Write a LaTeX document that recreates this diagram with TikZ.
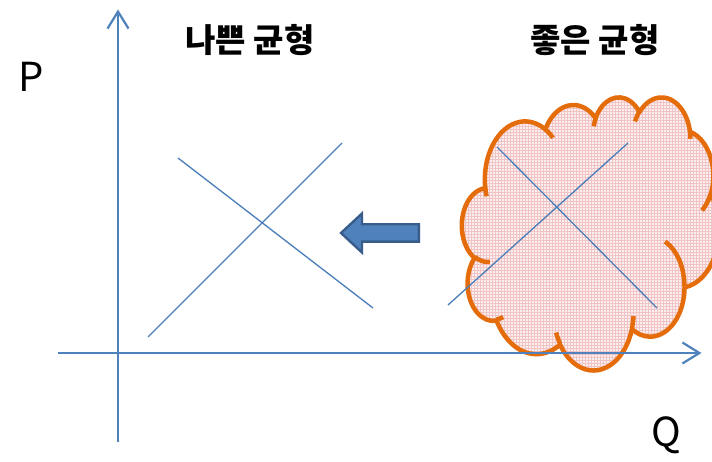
\documentclass[tikz,border=0pt]{standalone}
\usepackage{fontspec}
\newfontfamily\kr{Noto Sans CJK KR}
\usetikzlibrary{arrows.meta,patterns}
\definecolor{axisblue}{HTML}{4F81BD}
\definecolor{lineblue}{HTML}{4A7EBB}
\definecolor{cloudorange}{HTML}{E46C0A}
\definecolor{cloudpink}{RGB}{252,239,239}
\definecolor{gridpink}{RGB}{240,196,196}
\definecolor{arrowdark}{HTML}{385D8A}
% map cloud shape units (0..432) to picture points
\newcommand\cX[1]{462+0.595*(#1)}
\newcommand\cY[1]{365.5-0.632*(#1)}
% parametric angles of an OOXML-style arcTo (visual angles)
\newcommand\cldset[5]{%
  \pgfmathsetmacro\cldTs{atan2((#2)*sin(#4),(#3)*cos(#4))}%
  \pgfmathsetmacro\cldTe{atan2((#2)*sin((#4)+(#5)),(#3)*cos((#4)+(#5)))}%
  \pgfmathsetmacro\cldTe{\cldTe+360*((#5)>0)*(\cldTe<\cldTs)-360*((#5)<0)*(\cldTe>\cldTs)}%
  \expandafter\xdef\csname cldS#1\endcsname{\cldTs}%
  \expandafter\xdef\csname cldE#1\endcsname{\cldTe}%
}
\newcommand\cldarc[3]{arc[start angle={-(\csname cldS#1\endcsname)}, end angle={-(\csname cldE#1\endcsname)}, x radius={0.595*(#2)}, y radius={0.632*(#3)}]}
\begin{document}
\begin{tikzpicture}[x=1pt,y=1pt,
  axis/.style={draw=axisblue, line width=2.2pt, -{Straight Barb[length=17pt,width=21pt]}},
  curve/.style={draw=lineblue, line width=1.3pt},
  cloudline/.style={draw=cloudorange, line width=4.5pt},
  cloudbody/.style={cloudline, line join=round, preaction={fill=cloudpink}, pattern=grid, pattern color=gridpink},
  shiftarrow/.style={draw=arrowdark, fill=axisblue, line width=2.4pt, line join=miter},
  axlabel/.style={font=\kr\fontsize{40}{40}\selectfont, inner sep=0pt},
  title/.style={font=\kr\bfseries\fontsize{33}{33}\selectfont, inner sep=0pt}]
\useasboundingbox (0,0) rectangle (712,462);
\fill[white] (0,0) rectangle (712,462);
% main outline arcs
\cldset{A}{67.53}{91.90}{-190.4875}{123.7805}
\cldset{B}{53.33}{72.67}{-144.1024}{89.9452}
\cldset{C}{43.65}{59.45}{-145.8079}{99.7230}
\cldset{D}{48.57}{65.95}{-130.9861}{117.2417}
\cldset{E}{53.33}{72.73}{-78.7089}{109.0269}
\cldset{F}{67.75}{92.20}{-46.2673}{130.2690}
\cldset{G}{57.85}{78.67}{0.6250}{114.0333}
\cldset{H}{67.52}{92.15}{22.4516}{115.1726}
\cldset{I}{77.20}{105.43}{66.2426}{75.7110}
\cldset{J}{43.60}{59.18}{-274.9421}{146.7356}
\cldset{K}{43.45}{59.45}{-246.8285}{152.5189}
% inner hook arcs
\cldset{a}{43.45}{59.45}{86.7420}{26.4295}
\cldset{b}{43.60}{59.18}{73.6105}{11.4475}
\cldset{c}{67.52}{92.15}{137.6242}{14.0811}
\cldset{d}{67.52}{92.15}{6.4533}{15.9984}
\cldset{e}{57.85}{78.67}{-70.2924}{70.9174}
\cldset{f}{53.33}{72.73}{30.3180}{27.7515}
\cldset{g}{48.57}{65.95}{-13.7443}{14.8589}
\cldset{h}{48.57}{65.95}{-149.1815}{18.1954}
\cldset{i}{43.65}{59.45}{-163.4943}{17.6864}
\cldset{j}{67.53}{91.90}{-66.7070}{12.3194}
\cldset{k}{67.53}{91.90}{157.6544}{11.8582}
\begin{scope}
\clip (0,0) rectangle (712,462);
\path[cloudbody] ({\cX{39.00}},{\cY{143.70}})
  \cldarc{A}{67.53}{91.90} \cldarc{B}{53.33}{72.67} \cldarc{C}{43.65}{59.45}
  \cldarc{D}{48.57}{65.95} \cldarc{E}{53.33}{72.73} \cldarc{F}{67.75}{92.20}
  \cldarc{G}{57.85}{78.67} \cldarc{H}{67.52}{92.15} \cldarc{I}{77.20}{105.43}
  \cldarc{J}{43.60}{59.18} \cldarc{K}{43.45}{59.45} -- cycle;
\draw[cloudline] ({\cX{46.93}},{\cY{261.77}}) \cldarc{a}{43.45}{59.45};
\draw[cloudline] ({\cX{69.28}},{\cY{348.99}}) \cldarc{b}{43.60}{59.18};
\draw[cloudline] ({\cX{164.78}},{\cY{390.90}}) \cldarc{c}{67.52}{92.15};
\draw[cloudline] ({\cX{288.27}},{\cY{347.51}}) \cldarc{d}{67.52}{92.15};
\draw[cloudline] ({\cX{341.29}},{\cY{229.54}}) \cldarc{e}{57.85}{78.67};
\draw[cloudline] ({\cX{417.98}},{\cY{153.54}}) \cldarc{f}{53.33}{72.73};
\draw[cloudline] ({\cX{383.24}},{\cY{54.26}}) \cldarc{g}{48.57}{65.95};
\draw[cloudline] ({\cX{290.78}},{\cY{39.52}}) \cldarc{h}{48.57}{65.95};
\draw[cloudline] ({\cX{221.41}},{\cY{47.20}}) \cldarc{i}{43.65}{59.45};
\draw[cloudline] ({\cX{140.00}},{\cY{51.92}}) \cldarc{j}{67.53}{91.90};
\draw[cloudline] ({\cX{41.27}},{\cY{157.89}}) \cldarc{k}{67.53}{91.90};
\end{scope}
% supply/demand lines
\coordinate (l1a) at (148,125); \coordinate (l1b) at (342,319);
\coordinate (l2a) at (178,304); \coordinate (l2b) at (373,154);
\coordinate (r1a) at (448,157); \coordinate (r1b) at (628,319);
\coordinate (r2a) at (497,315); \coordinate (r2b) at (657,154);
\draw[curve] (l1a) -- (l1b);
\draw[curve] (l2a) -- (l2b);
\draw[curve] (r1a) -- (r1b);
\draw[curve] (r2a) -- (r2b);
% axes
\coordinate (yb) at (118,20); \coordinate (yt) at (118,452.5);
\coordinate (xl) at (58,109); \coordinate (xr) at (701.5,109);
\draw[axis] (yb) -- (yt);
\draw[axis] (xl) -- (xr);
% shift arrow
\draw[shiftarrow] (341,229) -- (362,248.5) -- (362,237.7) -- (418.8,237.7)
  -- (418.8,220.3) -- (362,220.3) -- (362,209.5) -- cycle;
% labels
\node[axlabel] (P) at (31.5,385) {P};
\node[axlabel] (Q) at (666,27) {Q};
\node[title] (bad) at (250,422) {나쁜 균형};
\node[title] (good) at (595,422) {좋은 균형};
\end{tikzpicture}
\end{document}
